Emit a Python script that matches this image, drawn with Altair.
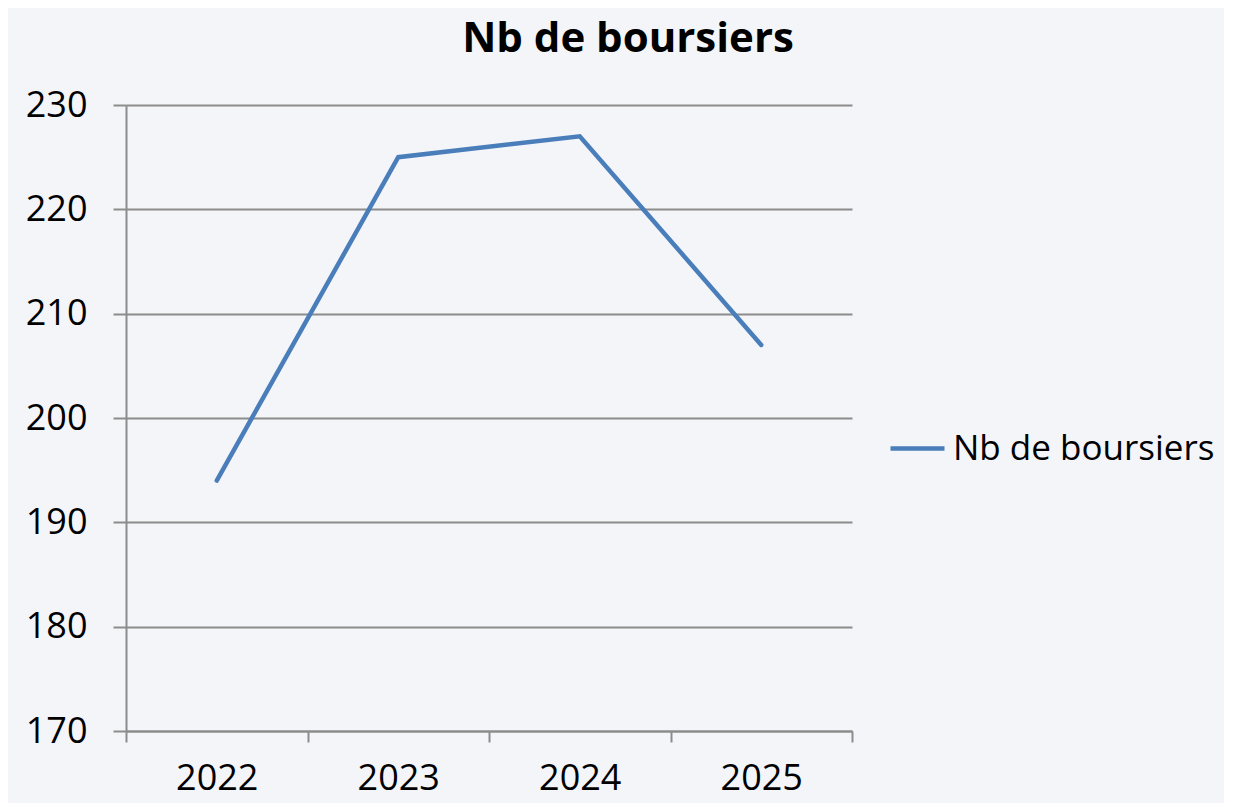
import altair as alt
import pandas as pd

years = ["2022", "2023", "2024", "2025"]
values = [194, 225, 227, 207]
series = ["Nb de boursiers"] * len(years)
y_ticks = [170, 180, 190, 200, 210, 220, 230]

df = pd.DataFrame({"Année": years, "Valeur": values, "Série": series})

FONT = "Open Sans"
GRID = "#8C8C8C"

chart = (
    alt.Chart(df)
    .mark_line(strokeWidth=4.5, strokeCap="round", strokeJoin="miter")
    .encode(
        x=alt.X(
            "Année:N",
            sort=years,
            scale=alt.Scale(type="band", paddingInner=0, paddingOuter=0),
            axis=alt.Axis(
                title=None,
                labelAngle=0,
                tickBand="extent",
                grid=False,
                ticks=True,
                tickSize=11,
                tickWidth=2,
                tickColor=GRID,
                domainColor=GRID,
                domainWidth=2,
                labelFont=FONT,
                labelFontSize=36,
                labelColor="#000000",
                labelPadding=19,
            ),
        ),
        y=alt.Y(
            "Valeur:Q",
            scale=alt.Scale(domain=[170, 230], nice=False, zero=False),
            axis=alt.Axis(
                title=None,
                values=y_ticks,
                grid=True,
                gridColor=GRID,
                gridWidth=2,
                ticks=True,
                tickSize=13,
                tickWidth=2,
                tickColor=GRID,
                domainColor=GRID,
                domainWidth=2,
                labelFont=FONT,
                labelFontSize=36,
                labelColor="#000000",
                labelPadding=26,
                labelBaseline="middle",
            ),
        ),
        color=alt.Color(
            "Série:N",
            scale=alt.Scale(range=["#4A7EBB"]),
            legend=alt.Legend(
                title=None,
                orient="none",
                legendX=762,
                legendY=314,
                symbolType="stroke",
                symbolSize=2916,
                symbolStrokeWidth=4.5,
                labelFont=FONT,
                labelFontSize=35,
                labelColor="#000000",
                labelOffset=6,
                labelLimit=400,
            ),
        ),
    )
    .properties(
        width=726,
        height=626,
        autosize=alt.AutoSizeParams(type="none"),
        padding={"left": 118, "top": 97, "right": 372, "bottom": 72},
        background="#F4F5F9",
        title=alt.TitleParams(
            "Nb de boursiers",
            font=FONT,
            fontSize=42,
            fontWeight="bold",
            color="#000000",
            anchor="middle",
            dx=139,
            offset=26,
        ),
    )
    .configure_view(stroke=None)
)

chart.save("out.html", embed_options={"renderer": "svg", "actions": False})
